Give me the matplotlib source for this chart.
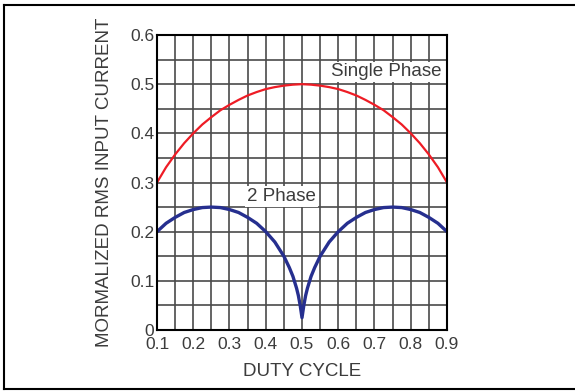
import matplotlib
matplotlib.use('Agg')
import matplotlib.pyplot as plt
from matplotlib.lines import Line2D
import numpy as np

plt.rcParams['font.family'] = ['Liberation Sans', 'DejaVu Sans']

# duty cycle values
duty = [0.1, 0.125, 0.15, 0.175, 0.2, 0.225, 0.25, 0.275, 0.3, 0.325, 0.35, 0.375,
        0.4, 0.425, 0.45, 0.475, 0.5, 0.525, 0.55, 0.575, 0.6, 0.625, 0.65, 0.675,
        0.7, 0.725, 0.75, 0.775, 0.8, 0.825, 0.85, 0.875, 0.9]
single = [0.300, 0.331, 0.357, 0.380, 0.400, 0.418, 0.433, 0.447, 0.458, 0.468, 0.477, 0.484,
          0.490, 0.494, 0.497, 0.499, 0.500, 0.499, 0.497, 0.494, 0.490, 0.484, 0.477, 0.468,
          0.458, 0.447, 0.433, 0.418, 0.400, 0.380, 0.357, 0.331, 0.300]

duty2 = [0.1, 0.125, 0.15, 0.175, 0.2, 0.225, 0.25, 0.275, 0.3, 0.325, 0.35, 0.375,
         0.4, 0.425, 0.45, 0.465, 0.475, 0.485, 0.49, 0.495, 0.5,
         0.505, 0.51, 0.515, 0.525, 0.535, 0.55, 0.575, 0.6, 0.625, 0.65, 0.675,
         0.7, 0.725, 0.75, 0.775, 0.8, 0.825, 0.85, 0.875, 0.9]
two = [0.200, 0.217, 0.229, 0.239, 0.245, 0.249, 0.250, 0.249, 0.245, 0.239, 0.229, 0.217,
       0.200, 0.179, 0.150, 0.127, 0.109, 0.085, 0.070, 0.050, 0.025,
       0.050, 0.070, 0.085, 0.109, 0.127, 0.150, 0.179, 0.200, 0.217, 0.229, 0.239,
       0.245, 0.249, 0.250, 0.249, 0.245, 0.239, 0.229, 0.217, 0.200]

xticks = [0.1, 0.2, 0.3, 0.4, 0.5, 0.6, 0.7, 0.8, 0.9]
yticks = [0, 0.1, 0.2, 0.3, 0.4, 0.5, 0.6]
ytick_labels = ['0', '0.1', '0.2', '0.3', '0.4', '0.5', '0.6']

txt = '#3c3c3c'

fig = plt.figure(figsize=(5.75, 3.91), dpi=100)
ax = fig.add_axes([157/575, 61/391, 290/575, 295/391])

ax.plot(duty, single, color='#ee1c25', lw=1.6, zorder=3)
ax.plot(duty2, two, color='#262f8f', lw=2.4, zorder=3)

ax.set_xlim(0.1, 0.9)
ax.set_ylim(0, 0.6)
ax.set_xticks(xticks)
ax.set_xticklabels([('%.1f' % v) for v in xticks])
ax.set_yticks(yticks)
ax.set_yticklabels(ytick_labels)
ax.set_xticks(np.arange(0.1, 0.91, 0.05), minor=True)
ax.set_yticks(np.arange(0, 0.61, 0.05), minor=True)
ax.grid(which='both', color='#4a4a4a', lw=1.2)
ax.tick_params(which='both', length=0, labelsize=12.5, colors=txt, pad=2)
ax.tick_params(axis='x', pad=5)
for s in ax.spines.values():
    s.set_color('black')
    s.set_linewidth(1.5)
    s.set_zorder(4)

ax.set_xlabel('DUTY CYCLE', fontsize=13.5, color=txt, labelpad=8)
ax.set_ylabel('MORMALIZED RMS INPUT CURRENT', fontsize=13.5, color=txt, labelpad=12)

box = dict(boxstyle='square,pad=0.1', facecolor='white', edgecolor='none')
ax.text(0.732, 0.525, 'Single Phase', fontsize=13.5, color=txt, ha='center', va='center',
        bbox=box, zorder=5)
ax.text(0.444, 0.271, '2 Phase', fontsize=13.5, color=txt, ha='center', va='center',
        bbox=box, zorder=5)

# frame around the figure (no right side)
fig.add_artist(Line2D([4/575, 4/575], [1-5/391, 1-389/391], color='black', lw=1.5,
                      transform=fig.transFigure))
fig.add_artist(Line2D([4/575, 1], [1-5/391, 1-5/391], color='black', lw=1.5,
                      transform=fig.transFigure))
fig.add_artist(Line2D([4/575, 1], [1-389/391, 1-389/391], color='black', lw=1.5,
                      transform=fig.transFigure))

fig.savefig('out.png', dpi=100)
